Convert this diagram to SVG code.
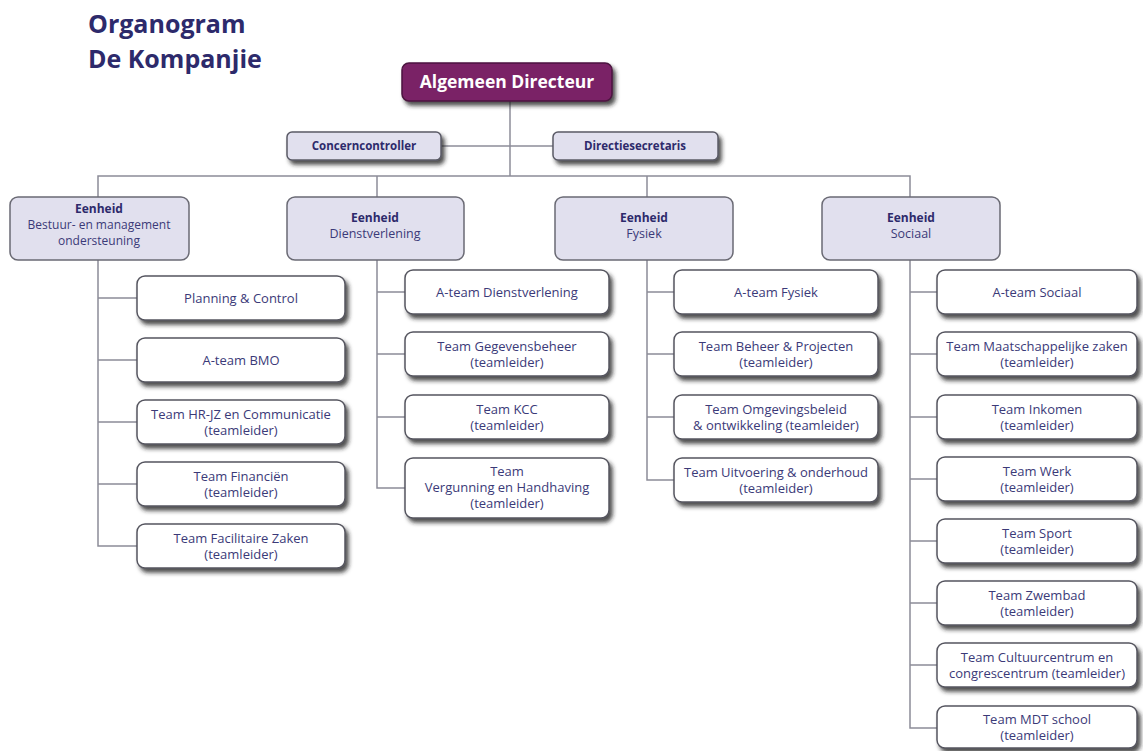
<svg xmlns="http://www.w3.org/2000/svg" width="1143" height="751" viewBox="0 0 1143 751">
  <defs>
    <filter id="shadow" x="-10%" y="-20%" width="125%" height="160%">
      <feDropShadow dx="3" dy="4" stdDeviation="2" flood-color="#222" flood-opacity="0.8"/>
    </filter>
    <style>
      .title { font-family: "Open Sans", "Liberation Sans", sans-serif; font-weight: 700; font-size: 25px; fill: #2d2a6b; }
      .lead rect { fill: #7a2366; stroke: #4c1440; stroke-width: 1.5; }
      .lead text { font-family: "Open Sans", "Liberation Sans", sans-serif; font-weight: 700; font-size: 17.5px; fill: #ffffff; text-anchor: middle; }
      .staff rect { fill: #e1e0ee; stroke: #5a5a66; stroke-width: 1.5; }
      .staff text { font-family: "Open Sans", "Liberation Sans", sans-serif; font-weight: 700; font-size: 11.5px; fill: #2d2a6b; text-anchor: middle; }
      .unit rect { fill: #e1e0ee; stroke: #6a6a74; stroke-width: 1.5; }
      .unit text { font-family: "Open Sans", "Liberation Sans", sans-serif; font-size: 12.5px; fill: #3b3a78; text-anchor: middle; }
      .unit .head { font-weight: 700; font-size: 12px; fill: #2d2a6b; }
      .unit .tight { font-size: 12px; }
      .team rect { fill: #ffffff; stroke: #55555f; stroke-width: 1.5; }
      .team text { font-family: "Open Sans", "Liberation Sans", sans-serif; font-size: 13px; fill: #3b3a78; text-anchor: middle; }
      .links path { fill: none; stroke: #8c8c98; stroke-width: 1.5; }
    </style>
  </defs>

  <rect width="1143" height="751" fill="#ffffff"/>

  <!-- heading -->
  <text class="title" x="88" y="33">Organogram</text>
  <text class="title" x="88" y="68">De Kompanjie</text>

  <!-- connectors -->
  <g class="links">
    <path d="M510 101 V176"/>
    <path d="M441 146 H553"/>
    <path d="M98 197 V176 H910 V197"/>
    <path d="M377 176 V197"/>
    <path d="M647 176 V197"/>
    <!-- Bestuur- en managementondersteuning -->
    <path d="M98 260 V546 H137"/>
    <path d="M98 298 H137 M98 360 H137 M98 422 H137 M98 484 H137"/>
    <!-- Dienstverlening -->
    <path d="M377 260 V488 H405"/>
    <path d="M377 292 H405 M377 354 H405 M377 417 H405"/>
    <!-- Fysiek -->
    <path d="M647 260 V480 H674"/>
    <path d="M647 292 H674 M647 354 H674 M647 417 H674"/>
    <!-- Sociaal -->
    <path d="M910 260 V728 H937"/>
    <path d="M910 292 H937 M910 354 H937 M910 417 H937 M910 479 H937 M910 541 H937 M910 603 H937 M910 665 H937"/>
  </g>

  <!-- top -->
  <g id="algemeen-directeur" class="lead">
    <rect x="402" y="63" width="210" height="38" rx="7" filter="url(#shadow)"/>
    <text x="507" y="88">Algemeen Directeur</text>
  </g>
  <g id="concerncontroller" class="staff">
    <rect x="287" y="132" width="154" height="28" rx="5" filter="url(#shadow)"/>
    <text x="364" y="150">Concerncontroller</text>
  </g>
  <g id="directiesecretaris" class="staff">
    <rect x="553" y="132" width="165" height="28" rx="5" filter="url(#shadow)"/>
    <text x="635" y="150">Directiesecretaris</text>
  </g>

  <!-- units -->
  <g id="eenheid-bmo" class="unit">
    <rect x="10" y="197" width="179" height="63" rx="8"/>
    <text class="head" x="99" y="213">Eenheid</text>
    <text class="tight" x="99" y="229">Bestuur- en management</text>
    <text class="tight" x="99" y="245">ondersteuning</text>
  </g>
  <g id="eenheid-dienstverlening" class="unit">
    <rect x="287" y="197" width="177" height="63" rx="8"/>
    <text class="head" x="375" y="222">Eenheid</text>
    <text x="375" y="238">Dienstverlening</text>
  </g>
  <g id="eenheid-fysiek" class="unit">
    <rect x="555" y="197" width="178" height="63" rx="8"/>
    <text class="head" x="644" y="222">Eenheid</text>
    <text x="644" y="238">Fysiek</text>
  </g>
  <g id="eenheid-sociaal" class="unit">
    <rect x="822" y="197" width="178" height="63" rx="8"/>
    <text class="head" x="911" y="222">Eenheid</text>
    <text x="911" y="238">Sociaal</text>
  </g>

  <!-- teams: Bestuur- en managementondersteuning -->
  <g id="planning-control" class="team">
    <rect x="137" y="276" width="208" height="44" rx="8" filter="url(#shadow)"/>
    <text x="241" y="303">Planning &amp; Control</text>
  </g>
  <g id="a-team-bmo" class="team">
    <rect x="137" y="338" width="208" height="44" rx="8" filter="url(#shadow)"/>
    <text x="241" y="365">A-team BMO</text>
  </g>
  <g id="team-hr-jz" class="team">
    <rect x="137" y="400" width="208" height="44" rx="8" filter="url(#shadow)"/>
    <text x="241" y="419">Team HR-JZ en Communicatie</text>
    <text x="241" y="435">(teamleider)</text>
  </g>
  <g id="team-financien" class="team">
    <rect x="137" y="462" width="208" height="44" rx="8" filter="url(#shadow)"/>
    <text x="241" y="481">Team Financiën</text>
    <text x="241" y="497">(teamleider)</text>
  </g>
  <g id="team-facilitaire-zaken" class="team">
    <rect x="137" y="524" width="208" height="44" rx="8" filter="url(#shadow)"/>
    <text x="241" y="543">Team Facilitaire Zaken</text>
    <text x="241" y="559">(teamleider)</text>
  </g>

  <!-- teams: Dienstverlening -->
  <g id="a-team-dienstverlening" class="team">
    <rect x="405" y="270" width="204" height="44" rx="8" filter="url(#shadow)"/>
    <text x="507" y="297">A-team Dienstverlening</text>
  </g>
  <g id="team-gegevensbeheer" class="team">
    <rect x="405" y="332" width="204" height="44" rx="8" filter="url(#shadow)"/>
    <text x="507" y="351">Team Gegevensbeheer</text>
    <text x="507" y="367">(teamleider)</text>
  </g>
  <g id="team-kcc" class="team">
    <rect x="405" y="395" width="204" height="44" rx="8" filter="url(#shadow)"/>
    <text x="507" y="414">Team KCC</text>
    <text x="507" y="430">(teamleider)</text>
  </g>
  <g id="team-vergunning-handhaving" class="team">
    <rect x="405" y="458" width="204" height="60" rx="8" filter="url(#shadow)"/>
    <text x="507" y="476">Team</text>
    <text x="507" y="492">Vergunning en Handhaving</text>
    <text x="507" y="508">(teamleider)</text>
  </g>

  <!-- teams: Fysiek -->
  <g id="a-team-fysiek" class="team">
    <rect x="674" y="270" width="204" height="44" rx="8" filter="url(#shadow)"/>
    <text x="776" y="297">A-team Fysiek</text>
  </g>
  <g id="team-beheer-projecten" class="team">
    <rect x="674" y="332" width="204" height="44" rx="8" filter="url(#shadow)"/>
    <text x="776" y="351">Team Beheer &amp; Projecten</text>
    <text x="776" y="367">(teamleider)</text>
  </g>
  <g id="team-omgevingsbeleid" class="team">
    <rect x="674" y="395" width="204" height="44" rx="8" filter="url(#shadow)"/>
    <text x="776" y="414">Team Omgevingsbeleid</text>
    <text x="776" y="430">&amp; ontwikkeling (teamleider)</text>
  </g>
  <g id="team-uitvoering-onderhoud" class="team">
    <rect x="674" y="458" width="204" height="44" rx="8" filter="url(#shadow)"/>
    <text x="776" y="477">Team Uitvoering &amp; onderhoud</text>
    <text x="776" y="493">(teamleider)</text>
  </g>

  <!-- teams: Sociaal -->
  <g id="a-team-sociaal" class="team">
    <rect x="937" y="270" width="200" height="44" rx="8" filter="url(#shadow)"/>
    <text x="1037" y="297">A-team Sociaal</text>
  </g>
  <g id="team-maatschappelijke-zaken" class="team">
    <rect x="937" y="332" width="200" height="44" rx="8" filter="url(#shadow)"/>
    <text x="1037" y="351">Team Maatschappelijke zaken</text>
    <text x="1037" y="367">(teamleider)</text>
  </g>
  <g id="team-inkomen" class="team">
    <rect x="937" y="395" width="200" height="44" rx="8" filter="url(#shadow)"/>
    <text x="1037" y="414">Team Inkomen</text>
    <text x="1037" y="430">(teamleider)</text>
  </g>
  <g id="team-werk" class="team">
    <rect x="937" y="457" width="200" height="44" rx="8" filter="url(#shadow)"/>
    <text x="1037" y="476">Team Werk</text>
    <text x="1037" y="492">(teamleider)</text>
  </g>
  <g id="team-sport" class="team">
    <rect x="937" y="519" width="200" height="44" rx="8" filter="url(#shadow)"/>
    <text x="1037" y="538">Team Sport</text>
    <text x="1037" y="554">(teamleider)</text>
  </g>
  <g id="team-zwembad" class="team">
    <rect x="937" y="581" width="200" height="44" rx="8" filter="url(#shadow)"/>
    <text x="1037" y="600">Team Zwembad</text>
    <text x="1037" y="616">(teamleider)</text>
  </g>
  <g id="team-cultuurcentrum" class="team">
    <rect x="937" y="643" width="200" height="44" rx="8" filter="url(#shadow)"/>
    <text x="1037" y="662">Team Cultuurcentrum en</text>
    <text x="1037" y="678">congrescentrum (teamleider)</text>
  </g>
  <g id="team-mdt-school" class="team">
    <rect x="937" y="706" width="200" height="42" rx="8" filter="url(#shadow)"/>
    <text x="1037" y="724">Team MDT school</text>
    <text x="1037" y="740">(teamleider)</text>
  </g>
</svg>
